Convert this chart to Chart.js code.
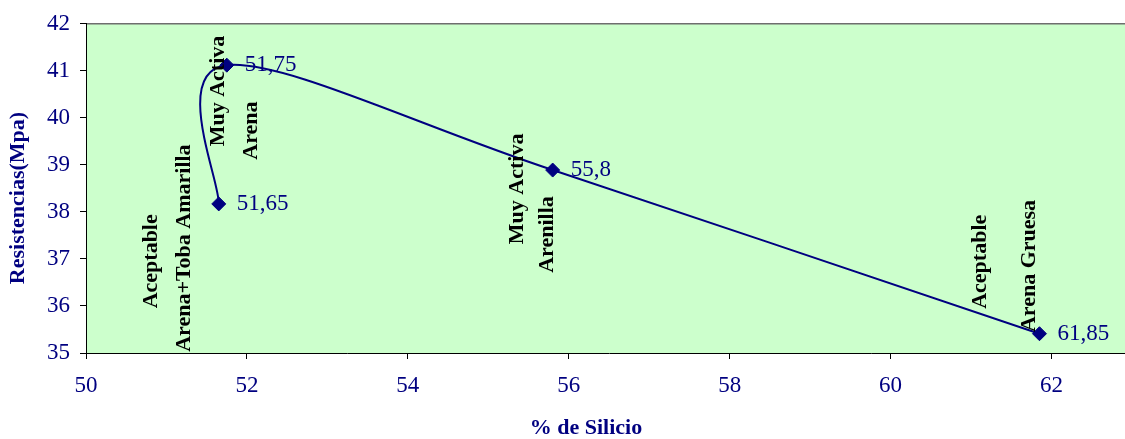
<!DOCTYPE html>
<html>
<head>
<meta charset="utf-8">
<script src="https://cdn.jsdelivr.net/npm/chart.js@4"></script>
<style>
  html, body { margin: 0; padding: 0; background: #ffffff; overflow: hidden; }
  #wrap { width: 1140px; height: 439px; }
</style>
</head>
<body>
<div id="wrap"><canvas id="chart" width="1140" height="439"></canvas></div>
<script>
// Silicon content (%) against strength (MPa)
const xValues = [51.65, 51.75, 55.8, 61.85];
const yValues = [38.17, 41.12, 38.89, 35.41];

// Axis ticks
const xTicks = [50, 52, 54, 56, 58, 60, 62];
const yTicks = [35, 36, 37, 38, 39, 40, 41, 42];

// Vertical notes placed in data coordinates
const noteTexts = ['Aceptable', 'Arena+Toba Amarilla', 'Muy Activa', 'Arena',
                   'Muy Activa', 'Arenilla', 'Aceptable', 'Arena Gruesa'];
const noteX = [50.81, 51.22, 51.65, 52.05, 55.36, 55.73, 61.12, 61.72];
const noteY = [36.95, 37.23, 40.57, 39.73, 38.49, 37.52, 36.94, 36.85];

const xTitle = '% de Silicio';
const yTitle = 'Resistencias(Mpa)';

const NAVY = '#000080';
const SERIF = '"Liberation Serif", "Times New Roman", serif';

const plotBackground = {
  id: 'plotBackground',
  beforeDraw(chart) {
    const { ctx, chartArea: a } = chart;
    ctx.save();
    ctx.fillStyle = '#CCFFCC';
    ctx.fillRect(a.left, a.top, a.right - a.left, a.bottom - a.top);
    ctx.strokeStyle = '#6e6e6e';
    ctx.lineWidth = 1.5;
    ctx.beginPath();
    ctx.moveTo(a.left, a.top);
    ctx.lineTo(a.right, a.top);
    ctx.lineTo(a.right, a.bottom);
    ctx.stroke();
    ctx.restore();
  }
};

// Spreadsheet-style smoothing: uniform Catmull-Rom handles (1/6 of the
// neighbour chord) instead of the distance-weighted default.
const uniformSmoothing = {
  id: 'uniformSmoothing',
  beforeDatasetsDraw(chart) {
    const meta = chart.getDatasetMeta(0);
    const line = meta.dataset;
    const pts = meta.data;
    if (!line || pts.length < 2) return;
    line.updateControlPoints(chart.chartArea, 'x');
    const n = pts.length;
    for (let i = 0; i < n; i++) {
      const p = pts[i];
      const prev = pts[Math.max(0, i - 1)];
      const next = pts[Math.min(n - 1, i + 1)];
      const dx = (next.x - prev.x) / 6;
      const dy = (next.y - prev.y) / 6;
      p.cp1x = p.x - dx; p.cp1y = p.y - dy;
      p.cp2x = p.x + dx; p.cp2y = p.y + dy;
    }
    line._path = undefined;
  }
};

const textLayer = {
  id: 'textLayer',
  afterDatasetsDraw(chart) {
    const { ctx, scales } = chart;
    const xs = scales.x, ys = scales.y;
    ctx.save();

    // value labels beside each point
    const meta = chart.getDatasetMeta(0);
    ctx.font = '23px ' + SERIF;
    ctx.fillStyle = NAVY;
    ctx.textAlign = 'left';
    ctx.textBaseline = 'middle';
    meta.data.forEach((pt, i) => {
      const label = String(xValues[i]).replace('.', ',');
      ctx.fillText(label, pt.x + 18, pt.y);
    });

    // vertical notes
    ctx.font = 'bold 22px ' + SERIF;
    ctx.fillStyle = '#000000';
    ctx.textAlign = 'center';
    noteTexts.forEach((t, i) => {
      ctx.save();
      ctx.translate(xs.getPixelForValue(noteX[i]), ys.getPixelForValue(noteY[i]));
      ctx.rotate(-Math.PI / 2);
      ctx.fillText(t, 0, 0);
      ctx.restore();
    });
    ctx.restore();
  },
  afterDraw(chart) {
    const { ctx } = chart;
    ctx.save();
    ctx.font = 'bold 22px ' + SERIF;
    ctx.fillStyle = NAVY;
    ctx.textAlign = 'center';
    ctx.textBaseline = 'middle';
    ctx.fillText(xTitle, 586, 428);
    ctx.translate(18, 198);
    ctx.rotate(-Math.PI / 2);
    ctx.fillText(yTitle, 0, 0);
    ctx.restore();
  }
};

new Chart(document.getElementById('chart'), {
  type: 'scatter',
  data: {
    datasets: [{
      data: xValues.map((x, i) => ({ x: x, y: yValues[i] })),
      showLine: true,
      tension: 0.4,
      borderColor: NAVY,
      borderWidth: 2,
      backgroundColor: NAVY,
      pointStyle: 'rectRot',
      pointRadius: 7,
      pointBorderWidth: 1,
      pointBorderColor: NAVY,
      pointBackgroundColor: NAVY
    }]
  },
  options: {
    responsive: false,
    animation: false,
    devicePixelRatio: 1,
    layout: { padding: { top: 20, left: 0, right: 7, bottom: 0 } },
    plugins: { legend: { display: false }, tooltip: { enabled: false } },
    scales: {
      x: {
        type: 'linear',
        min: 50,
        max: 63,
        afterBuildTicks(scale) { scale.ticks = xTicks.map(v => ({ value: v })); },
        afterFit(scale) { scale.height = 86; },
        grid: { drawOnChartArea: false, drawTicks: true, tickLength: 6, color: '#000000' },
        border: { display: true, color: '#000000', width: 1 },
        ticks: { color: NAVY, font: { family: SERIF, size: 23 }, padding: 13, maxRotation: 0 }
      },
      y: {
        type: 'linear',
        min: 35,
        max: 42,
        afterBuildTicks(scale) { scale.ticks = yTicks.map(v => ({ value: v })); },
        afterFit(scale) { scale.width = 86; },
        grid: { drawOnChartArea: false, drawTicks: true, tickLength: 6, color: '#000000' },
        border: { display: true, color: '#000000', width: 1 },
        ticks: { color: NAVY, font: { family: SERIF, size: 23 }, padding: 10 }
      }
    }
  },
  plugins: [plotBackground, uniformSmoothing, textLayer]
});
</script>
</body>
</html>
